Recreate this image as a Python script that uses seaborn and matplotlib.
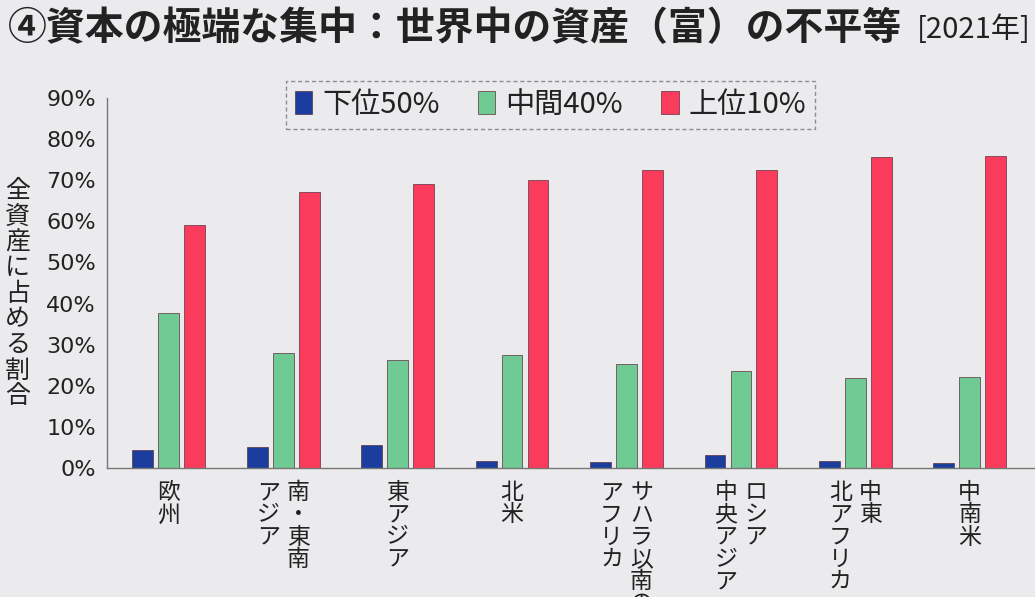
import numpy as np
import pandas as pd
import seaborn as sns
import matplotlib
matplotlib.use("Agg")
import matplotlib.pyplot as plt

# data (share of total wealth, %)
regions = ["欧州", "南・東南アジア", "東アジア", "北米",
           "サハラ以南のアフリカ", "ロシア中央アジア", "中東北アフリカ", "中南米"]
# vertical label columns, right column first (Japanese vertical writing)
region_cols = [["欧州"], ["南・東南", "アジア"], ["東アジア"], ["北米"],
               ["サハラ以南の", "アフリカ"], ["ロシア", "中央アジア"],
               ["中東", "北アフリカ"], ["中南米"]]
groups = ["下位50%", "中間40%", "上位10%"]
bottom50 = [4.3, 5.0, 5.5, 1.8, 1.5, 3.2, 1.6, 1.2]
middle40 = [37.7, 28.0, 26.3, 27.6, 25.3, 23.6, 21.8, 22.1]
top10 = [59.0, 67.0, 69.0, 70.0, 72.4, 72.4, 75.6, 75.8]
yticks = [0, 10, 20, 30, 40, 50, 60, 70, 80, 90]

df = pd.DataFrame({
    "region": regions * 3,
    "group": [groups[0]] * 8 + [groups[1]] * 8 + [groups[2]] * 8,
    "share": bottom50 + middle40 + top10,
})

sns.set_theme(style="white")
plt.rcParams["font.family"] = ["Noto Sans CJK JP", "DejaVu Sans"]
bg = "#ebebed"
ink = "#222222"

fig = plt.figure(figsize=(10.35, 5.97), dpi=100, facecolor=bg)
ax = fig.add_axes([0.1034, 0.216, 0.8966, 0.62])
ax.set_facecolor(bg)

palette = {groups[0]: "#1b3d9e", groups[1]: "#6fca93", groups[2]: "#fb3b5c"}
sns.barplot(data=df, x="region", y="share", hue="group", palette=palette,
            width=0.68, gap=0.2, edgecolor="#5a3040", linewidth=0.5,
            saturation=1, ax=ax)

ax.set_xlim(-0.54, 7.57)
ax.set_ylim(0, 90)
ax.set_yticks(yticks)
ax.set_yticklabels([f"{v}%" for v in yticks], fontsize=16, color=ink,
                   family=["DejaVu Sans"])
ax.tick_params(axis="y", length=0, pad=8)
ax.set_xticks(range(len(regions)))
ax.set_xticklabels([""] * len(regions))
ax.tick_params(axis="x", length=0)
ax.set_xlabel("")
ax.set_ylabel("")
for s in ["top", "right"]:
    ax.spines[s].set_visible(False)
for s in ["left", "bottom"]:
    ax.spines[s].set_color("#777777")
    ax.spines[s].set_linewidth(1.0)

# vertical category labels
tr = matplotlib.transforms.blended_transform_factory(ax.transData, ax.transAxes)
col_step = 0.262
for i, cols in enumerate(region_cols):
    n = len(cols)
    for j, col in enumerate(cols):
        off = ((n - 1) / 2 - j) * col_step
        ax.text(i + off, -0.035, "\n".join(col), transform=tr, ha="center",
                va="top", fontsize=16.5, color=ink, linespacing=0.96)

# y label stacked vertically
fig.text(0.017, 0.508, "\n".join("全資産に占める割合"), ha="center", va="center",
         fontsize=18, color=ink, linespacing=0.98)

# legend with dashed frame
handles, labels = ax.get_legend_handles_labels()
leg = ax.legend(handles, labels, ncol=3, loc="center", bbox_to_anchor=(0.478, 0.981),
                fontsize=21, frameon=True, handlelength=0.6, handleheight=0.85,
                handletextpad=0.35, columnspacing=1.3, borderpad=0.3,
                borderaxespad=0, fancybox=False, labelcolor=ink)
frame = leg.get_frame()
frame.set_linestyle((0, (3, 2)))
frame.set_edgecolor("#777777")
frame.set_facecolor(bg)
frame.set_linewidth(1.0)

# title
fig.text(0.008, 0.952, "④資本の極端な集中：世界中の資産（富）の不平等", ha="left",
         va="center", fontsize=28, fontweight="bold", color=ink)
fig.text(0.996, 0.950, "[2021年]", ha="right", va="center", fontsize=21, color=ink)

fig.savefig("out.png", dpi=100, facecolor=bg)
